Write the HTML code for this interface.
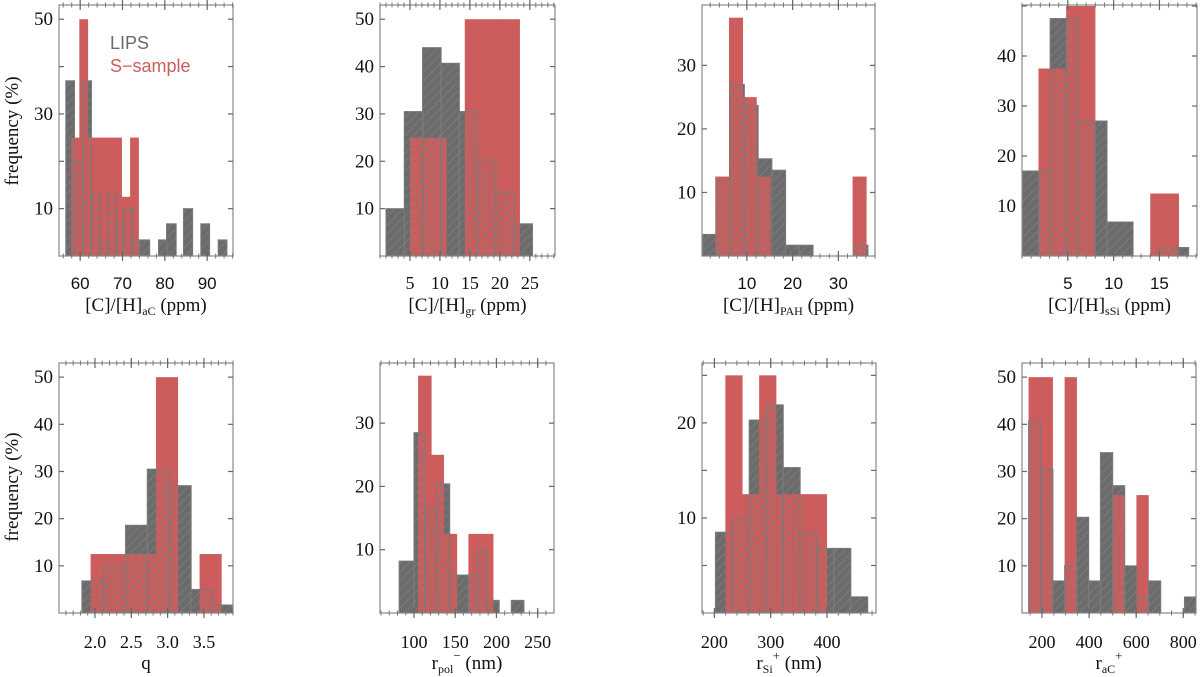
<!DOCTYPE html>
<html><head><meta charset="utf-8"><style>
html,body{margin:0;padding:0;background:#fff;}
svg{display:block;}
</style></head><body>
<svg id="fig" width="1200" height="677" viewBox="0 0 1200 677" xmlns="http://www.w3.org/2000/svg">
<defs>
<pattern id="hatch" patternUnits="userSpaceOnUse" width="9" height="9">
<line x1="0" y1="9" x2="9" y2="0" stroke="#7a7a7a" stroke-width="1"/>
<line x1="-1" y1="1" x2="1" y2="-1" stroke="#7a7a7a" stroke-width="1"/>
<line x1="8" y1="10" x2="10" y2="8" stroke="#7a7a7a" stroke-width="1"/>
</pattern>
</defs>
<text x="110" y="49" font-family="Liberation Sans, sans-serif" font-size="18" fill="#6b6b6b">LIPS</text>
<text x="110" y="72" font-family="Liberation Sans, sans-serif" font-size="18" fill="#cd5c5c">S−sample</text>
</svg>
<script>
// Panel 1: [C]/[H]aC
const p1GrayEdges=[56.6,58.6,60.55,62.6,64.6,66.5,68.5,70.2,72.4,74,76.35,78.5,80.4,82.6,84.4,86.5,88.5,90.5,92.6,94.6];
const p1GrayVals=[37,20,37,13.5,3.4,13.5,6.8,10,3.4,3.4,0,3.4,6.8,0,10,0,6.8,0,3.4];
const p1RedEdges=[57.9,59.8,61.8,63.8,65.8,67.8,69.8,71.8,73.8];
const p1RedVals=[25,50,25,25,25,25,12.5,25];
const p1XTicks=[60,70,80,90];
const p1YTicks=[10,30,50];
// Panel 2: [C]/[H]gr
const p2GrayEdges=[1.0,4.05,7.1,10.15,13.2,16.25,19.3,22.35,25.4];
const p2GrayVals=[10,30.5,44,40.7,30.5,20.3,13.5,6.8];
const p2RedEdges=[5,8.05,11.1,14.15,17.2,20.25,23.3];
const p2RedVals=[25,25,0,50,50,50];
const p2XTicks=[5,10,15,20,25];
const p2YTicks=[10,20,30,40,50];
// Panel 3: [C]/[H]PAH
const p3GrayEdges=[0.4,3.4,6.4,9.4,12.4,15.4,18.4,21.4,24.4,27.4,30.4,33.4,36.4];
const p3GrayVals=[3.4,11.9,27,23.7,15.3,13.5,1.7,1.7,0,0,0,1.7];
const p3RedEdges=[3.1,6.1,9.1,12.1,15.1,33.1,36.1];
const p3RedVals=[12.5,37.5,25,12.5,0,12.5];
const p3XTicks=[10,20,30];
const p3YTicks=[10,20,30];
// Panel 4: [C]/[H]sSi
const p4GrayEdges=[0.05,1.8,3.07,4.82,6.09,7.98,9.25,12.09,15.07,16.9,18.16];
const p4GrayVals=[17,17,47.5,47.5,27,27,6.8,0,1.7,1.7];
const p4RedEdges=[1.8,4.82,7.98,14,17.1];
const p4RedVals=[37.5,50,0,12.5];
const p4XTicks=[5,10,15];
const p4YTicks=[10,20,30,40];
// Panel 5: q
const p5GrayEdges=[1.82,2.12,2.42,2.72,3.02,3.32,3.62,3.92];
const p5GrayVals=[6.8,10,18.6,30.5,27,5,1.7];
const p5RedEdges=[1.94,2.24,2.54,2.84,3.14,3.44,3.74];
const p5RedVals=[12.5,12.5,12.5,50,0,12.5];
const p5XTicks=["2.0","2.5","3.0","3.5"];
const p5YTicks=[10,20,30,40,50];
// Panel 6: r_pol-
const p6GrayEdges=[82,100,113,128,143,166,177,188,203,218,233];
const p6GrayVals=[8.2,28.5,16.3,20.4,6,6,10,2,0,2];
const p6RedEdges=[105,121,136,152,166,196];
const p6RedVals=[37.5,25,12.5,0,12.5];
const p6XTicks=[100,150,200,250];
const p6YTicks=[10,20,30];
// Panel 7: r_Si+
const p7GrayEdges=[201.8,231.8,261.8,291.8,321.8,351.8,381.8,411.8,441.8,471.8];
const p7GrayVals=[8.5,10,20.3,21.9,15.3,8.5,6.8,6.8,1.7];
const p7RedEdges=[219.5,249.5,279.5,309.5,339.5,369.5,399.5];
const p7RedVals=[25,12.5,25,12.5,12.5,12.5];
const p7XTicks=[200,300,400];
const p7YTicks=[10,20];
// Panel 8: r_aC+
const p8GrayEdges=[143,194,245,296,347,397,448,499,550,601,652,703,754,805,856];
const p8GrayVals=[40.7,30.5,6.8,10,20.3,6.8,34,27,10,3.4,6.8,0,0,3.4];
const p8RedEdges=[143,194,245,296,347,397,448,499,550,601,652];
const p8RedVals=[50,50,0,50,0,0,0,25,0,25];
const p8XTicks=[200,400,600,800];
const p8YTicks=[10,20,30,40,50];

const NS="http://www.w3.org/2000/svg";
const svg=document.getElementById('fig');
function mk(tag,attrs,parent){const e=document.createElementNS(NS,tag);for(const k in attrs)e.setAttribute(k,attrs[k]);(parent||svg).appendChild(e);return e;}

const panels=[
 {id:'p1',x0:59,x1:233,y0:5,y1:256,xmin:55.0,xmax:96.1,ymax:53.0,minor:2,yMinor:10,ge:p1GrayEdges,gv:p1GrayVals,re:p1RedEdges,rv:p1RedVals,xt:p1XTicks,yt:p1YTicks,xfont:'sans',title:[['[C]/[H]',0],['aC',1],[' (ppm)',0]]},
 {id:'p2',x0:380,x1:555,y0:5,y1:256,xmin:0,xmax:29.2,ymax:53.0,minor:1,yMinor:10,ge:p2GrayEdges,gv:p2GrayVals,re:p2RedEdges,rv:p2RedVals,xt:p2XTicks,yt:p2YTicks,xfont:'serif',title:[['[C]/[H]',0],['gr',1],[' (ppm)',0]]},
 {id:'p3',x0:702,x1:875,y0:5,y1:256,xmin:0.2,xmax:38,ymax:39.5,minor:2,yMinor:10,ge:p3GrayEdges,gv:p3GrayVals,re:p3RedEdges,rv:p3RedVals,xt:p3XTicks,yt:p3YTicks,xfont:'sans',title:[['[C]/[H]',0],['PAH',1],[' (ppm)',0]]},
 {id:'p4',x0:1022,x1:1197,y0:5,y1:256,xmin:0,xmax:19.1,ymax:50.2,minor:1,yMinor:10,ge:p4GrayEdges,gv:p4GrayVals,re:p4RedEdges,rv:p4RedVals,xt:p4XTicks,yt:p4YTicks,xfont:'sans',title:[['[C]/[H]',0],['sSi',1],[' (ppm)',0]]},
 {id:'p5',x0:59,x1:233,y0:363,y1:613,xmin:1.505,xmax:3.9,ymax:53.0,minor:0.1,yMinor:10,ge:p5GrayEdges,gv:p5GrayVals,re:p5RedEdges,rv:p5RedVals,xt:p5XTicks,yt:p5YTicks,xfont:'serif',title:[['q',0]]},
 {id:'p6',x0:380,x1:554,y0:363,y1:613,xmin:58.8,xmax:269.8,ymax:39.5,minor:10,yMinor:10,ge:p6GrayEdges,gv:p6GrayVals,re:p6RedEdges,rv:p6RedVals,xt:p6XTicks,yt:p6YTicks,xfont:'serif',title:[['r',0],['pol',1],['−',2],[' (nm)',0]]},
 {id:'p7',x0:702,x1:876,y0:363,y1:613,xmin:178,xmax:487,ymax:26.3,minor:20,yMinor:5,ge:p7GrayEdges,gv:p7GrayVals,re:p7RedEdges,rv:p7RedVals,xt:p7XTicks,yt:p7YTicks,xfont:'serif',title:[['r',0],['Si',1],['+',2],[' (nm)',0]]},
 {id:'p8',x0:1022,x1:1196,y0:363,y1:613,xmin:115,xmax:854,ymax:53.0,minor:50,yMinor:10,ge:p8GrayEdges,gv:p8GrayVals,re:p8RedEdges,rv:p8RedVals,xt:p8XTicks,yt:p8YTicks,xfont:'serif',title:[['r',0],['aC',1],['+',2]]}
];

const SERIF='Liberation Serif, serif', SANS='Liberation Sans, sans-serif';

panels.forEach((p,pi)=>{
  const g=mk('g',{});
  
  
  const sx=v=>p.x0+(v-p.xmin)/(p.xmax-p.xmin)*(p.x1-p.x0);
  const sy=v=>p.y1-v/p.ymax*(p.y1-p.y0);
  const cp=mk('clipPath',{id:'clip'+p.id},g);
  mk('rect',{x:p.x0,y:p.y0,width:p.x1-p.x0,height:p.y1-p.y0},cp);
  const bars=mk('g',{'clip-path':'url(#clip'+p.id+')'},g);
  function drawHist(edges,vals,fill,stroke,kind){
    for(let i=0;i<vals.length;i++){
      if(vals[i]<=0)continue;
      const xa=sx(edges[i]),xb=sx(edges[i+1]),yt=sy(vals[i]);
      const r=mk('rect',{x:xa,y:yt,width:xb-xa+0.3,height:p.y1-yt,fill:fill,stroke:stroke,'stroke-width':1},bars);
      
      
    }
  }
  drawHist(p.ge,p.gv,'#6b6b6b','none','lips');
  drawHist(p.re,p.rv,'#cd5c5c','none','s-sample');
  drawHist(p.ge,p.gv,'url(#hatch)','#7a7a7a','lips-hatch');
  const fr=mk('rect',{x:p.x0,y:p.y0,width:p.x1-p.x0,height:p.y1-p.y0,fill:'none',stroke:'#888','stroke-width':1.2},g);
  
  
  const startM=Math.ceil(p.xmin/p.minor-1e-9);
  for(let k=startM;k*p.minor<=p.xmax+1e-9;k++){
    const x=sx(k*p.minor);
    mk('line',{x1:x,y1:p.y1-2.5,x2:x,y2:p.y1+2.5,stroke:'#777','stroke-width':1},g);
    mk('line',{x1:x,y1:p.y0-2.5,x2:x,y2:p.y0+2.5,stroke:'#777','stroke-width':1},g);
  }
  p.xt.forEach(t=>{
    const v=parseFloat(t),x=sx(v);
    mk('line',{x1:x,y1:p.y1-5,x2:x,y2:p.y1+5,stroke:'#666','stroke-width':1.2},g);
    mk('line',{x1:x,y1:p.y0-5,x2:x,y2:p.y0+5,stroke:'#666','stroke-width':1.2},g);
    const tx=mk('text',{x:x,y:p.y1+(pi<4?33:35),'text-anchor':'middle','font-family':p.xfont==='sans'?SANS:SERIF,'font-size':p.xfont==='sans'?17:18,fill:'#111'},g);
    tx.textContent=t;
    
    
  });
  for(let v=p.yMinor;v<p.ymax;v+=p.yMinor){
    const y=sy(v);
    mk('line',{x1:p.x0,y1:y,x2:p.x0+5,y2:y,stroke:'#666','stroke-width':1.2},g);
    mk('line',{x1:p.x1-5,y1:y,x2:p.x1,y2:y,stroke:'#666','stroke-width':1.2},g);
  }
  p.yt.forEach(t=>{
    const y=sy(t);
    const tx=mk('text',{x:p.x0-6,y:y+6,'text-anchor':'end','font-family':SERIF,'font-size':19,fill:'#111'},g);
    tx.textContent=t;
    
    
  });
  const tt=mk('text',{x:(p.x0+p.x1)/2,y:p.y1+(pi<4?55:56),'text-anchor':'middle','font-family':SERIF,'font-size':19,fill:'#111'},g);
  
  
  let cur=0;
  const offs=[0,4,-9], sizes=[19,12,13];
  p.title.forEach(([s,k])=>{
    const ts=mk('tspan',{'font-size':sizes[k]},tt);
    const d=offs[k]-cur;
    if(d!==0)ts.setAttribute('dy',d);
    cur=offs[k];
    ts.textContent=s;
  });
});

[[10,131],[10,487]].forEach(([x,y],i)=>{
  const t=mk('text',{x:0,y:0,transform:'translate('+(x+8)+','+y+') rotate(-90)','text-anchor':'middle','font-family':SERIF,'font-size':19,fill:'#111'});
  t.textContent='frequency (%)';
  
  
});
</script>
</body></html>
